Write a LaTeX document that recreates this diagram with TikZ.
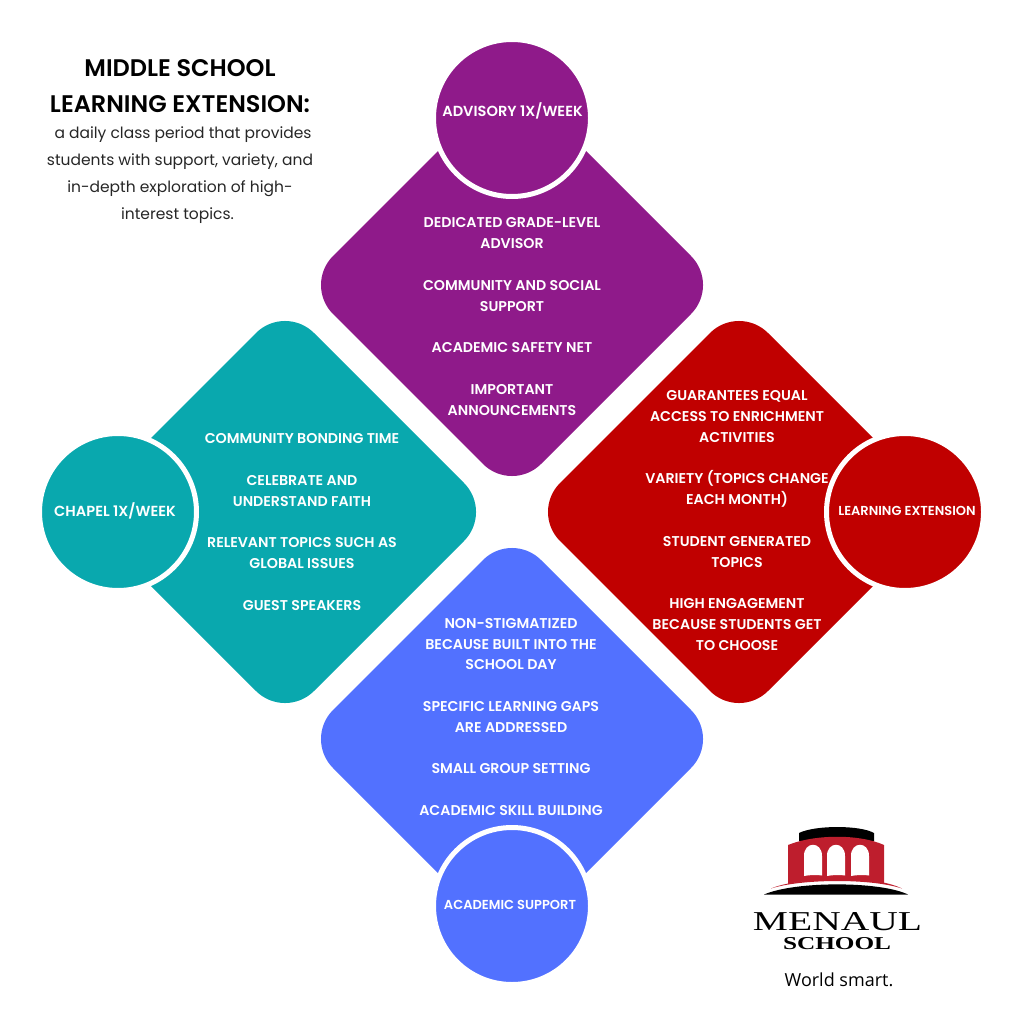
\documentclass[tikz,border=0pt]{standalone}
\usepackage{fontspec}
\setmainfont{Poppins}
\newfontfamily\lblfont{Poppins SemiBold}
\newfontfamily\bodyfont{Poppins}
\newfontfamily\logofont{Liberation Serif}
\newfontfamily\tagfont{Open Sans}
\definecolor{cpurple}{HTML}{8F1A8A}
\definecolor{cteal}{HTML}{09A8AE}
\definecolor{cred}{HTML}{C00000}
\definecolor{cblue}{HTML}{5271FF}
\definecolor{lred}{HTML}{BE1E2D}
\tikzset{
  diam/.style={rounded corners=41pt},
  ring/.style={circle,draw=white,line width=5pt,minimum size=157pt,inner sep=0pt},
  lbl/.style={text=white,align=center,inner sep=0pt,font=\lblfont\fontsize{14.2}{20.8}\selectfont},
  head/.style={text=white,align=center,inner sep=0pt,font=\lblfont\fontsize{14.6}{16}\selectfont},
  headsmall/.style={text=white,align=center,inner sep=0pt,font=\lblfont\fontsize{13}{16}\selectfont},
}
\begin{document}
\begin{tikzpicture}[x=1pt,y=-1pt]
\useasboundingbox (0,0) rectangle (1024,1024);
% diamonds
\fill[cpurple,diam] (512,77) -- (720,285) -- (512,493) -- (304,285) -- cycle;
\fill[cteal,diam] (285,304) -- (493,512) -- (285,720) -- (77,512) -- cycle;
\fill[cred,diam] (739,304) -- (947,512) -- (739,720) -- (531,512) -- cycle;
\fill[cblue,diam] (512,531) -- (720,739) -- (512,947) -- (304,739) -- cycle;
% circles
\node[ring,fill=cpurple] (cp) at (512,118) {};
\node[ring,fill=cteal] (ct) at (118,512) {};
\node[ring,fill=cred] (cr) at (905,512) {};
\node[ring,fill=cblue] (cb) at (512,906) {};
% circle labels
\node[head] (hp) at (512.5,111) {ADVISORY 1X/WEEK};
\node[head] (ht) at (115,511) {CHAPEL 1X/WEEK};
\node[headsmall] (hr) at (907,511) {LEARNING EXTENSION};
\node[headsmall] (hb) at (510,905) {ACADEMIC SUPPORT};
% lists
\node[lbl] (lp) at (512,316.5) {DEDICATED GRADE-LEVEL\\ADVISOR\\[20.8pt]COMMUNITY AND SOCIAL\\SUPPORT\\[20.8pt]ACADEMIC SAFETY NET\\[20.8pt]IMPORTANT\\ANNOUNCEMENTS};
\node[lbl] (lt) at (302,522) {COMMUNITY BONDING TIME\\[20.8pt]CELEBRATE AND\\UNDERSTAND FAITH\\[20.8pt]RELEVANT TOPICS SUCH AS\\GLOBAL ISSUES\\[20.8pt]GUEST SPEAKERS};
\node[lbl] (lr) at (737,520.5) {GUARANTEES EQUAL\\ACCESS TO ENRICHMENT\\ACTIVITIES\\[20.8pt]VARIETY (TOPICS CHANGE\\EACH MONTH)\\[20.8pt]STUDENT GENERATED\\TOPICS\\[20.8pt]HIGH ENGAGEMENT\\BECAUSE STUDENTS GET\\TO CHOOSE};
\node[lbl] (lb) at (511,717) {NON-STIGMATIZED\\BECAUSE BUILT INTO THE\\SCHOOL DAY\\[20.8pt]SPECIFIC LEARNING GAPS\\ARE ADDRESSED\\[20.8pt]SMALL GROUP SETTING\\[20.8pt]ACADEMIC SKILL BUILDING};
% title
\node[inner sep=0pt,align=center,font=\lblfont\fontsize{24}{36}\selectfont] (title) at (180,86) {MIDDLE SCHOOL\\LEARNING EXTENSION:};
\node[inner sep=0pt,align=center,font=\bodyfont\fontsize{15.5}{27}\selectfont,text=black!85] (body) at (180,175.5) {\hspace*{6pt}a daily class period that provides\\students with support, variety, and\\in-depth exploration of high-\\interest topics.\hspace*{5pt}};
% logo
\fill[black] (799,841) -- (799,833) .. controls (815,825) and (860,825) .. (874,833) -- (874,841) -- cycle;
\fill[lred] (788,884) -- (788,845) .. controls (815,834) and (860,834) .. (884,845) -- (884,884) .. controls (860,878) and (815,878) .. (788,884) -- cycle;
\fill[lred] (771,888.5) .. controls (795,878) and (870,873) .. (902,888.5) .. controls (870,878) and (800,879) .. (771,888.5) -- cycle;
\fill[black] (764,894.5) .. controls (795,881) and (880,881) .. (908,894.5) -- cycle;
\foreach \xa/\xb in {804/822,827/845,851/869}{
  \fill[white] (\xa,876) -- (\xa,856) .. controls (\xa,841) and (\xb,841) .. (\xb,856) -- (\xb,875.5) .. controls (\xb-5,874.5) and (\xa+5,875) .. (\xa,876) -- cycle;
}
\node[inner sep=0pt,font=\logofont] (menaul) at (837.5,921.5) {\resizebox{169pt}{18pt}{MENAUL}};
\node[inner sep=0pt,font=\logofont] (school) at (837,943.5) {\resizebox{108pt}{12pt}{\textbf{SCHOOL}}};
\node[inner sep=0pt,font=\tagfont\fontsize{18}{20}\selectfont] (tag) at (839,980) {World smart.};
\end{tikzpicture}
\end{document}
